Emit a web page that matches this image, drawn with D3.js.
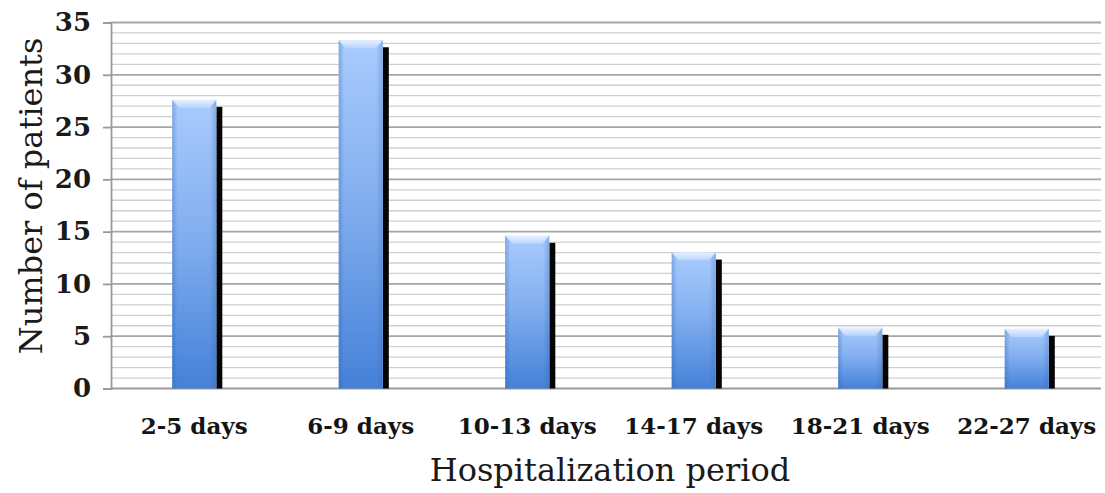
<!DOCTYPE html>
<html>
<head>
<meta charset="utf-8">
<script src="https://cdn.jsdelivr.net/npm/d3@7"></script>
<style>
  html, body { margin: 0; padding: 0; background: #fff; }
  svg { display: block; }
</style>
</head>
<body>
<svg id="chart" width="1105" height="493"></svg>
<script>
// Hospitalization period groups and share of patients in each
const categories = ["2-5 days", "6-9 days", "10-13 days", "14-17 days", "18-21 days", "22-27 days"];
const patients = [27.6, 33.3, 14.6, 13.0, 5.8, 5.7];
const yTicks = [0, 5, 10, 15, 20, 25, 30, 35];
const yMinor = d3.range(0, 36, 1);

const svg = d3.select("#chart");
const plotLeft = 111, plotTop = 22.5, plotBottom = 388.5, gridRight = 1101;

const x = d3.scaleBand().domain(categories).range([plotLeft, 1110]).paddingInner(0.735).paddingOuter(0.3675);
const y = d3.scaleLinear().domain([0, 35]).range([plotBottom, plotTop]);

const defs = svg.append("defs");
const g1 = defs.append("linearGradient").attr("id", "barFill").attr("x1", 0).attr("y1", 0).attr("x2", 0).attr("y2", 1);
g1.append("stop").attr("offset", "0%").attr("stop-color", "#a9cbfd");
g1.append("stop").attr("offset", "45%").attr("stop-color", "#84b0f0");
g1.append("stop").attr("offset", "100%").attr("stop-color", "#4581d8");
const g2 = defs.append("linearGradient").attr("id", "barSide").attr("x1", 0).attr("y1", 0).attr("x2", 1).attr("y2", 0);
g2.append("stop").attr("offset", "0%").attr("stop-color", "#2f62b0").attr("stop-opacity", 0.35);
g2.append("stop").attr("offset", "12%").attr("stop-color", "#2f62b0").attr("stop-opacity", 0);
g2.append("stop").attr("offset", "85%").attr("stop-color", "#2f62b0").attr("stop-opacity", 0);
g2.append("stop").attr("offset", "100%").attr("stop-color", "#2f62b0").attr("stop-opacity", 0.3);
const g3 = defs.append("linearGradient").attr("id", "bevel").attr("x1", 0).attr("y1", 0).attr("x2", 0).attr("y2", 1);
g3.append("stop").attr("offset", "0%").attr("stop-color", "#eef5ff");
g3.append("stop").attr("offset", "100%").attr("stop-color", "#b9d5ff");

// minor gridlines every unit
svg.append("g").selectAll("line").data(yMinor.filter(v => v % 5 !== 0)).join("line")
  .attr("x1", plotLeft).attr("x2", gridRight)
  .attr("y1", d => y(d)).attr("y2", d => y(d))
  .attr("stroke", "#cfcfcf").attr("stroke-width", 1.3);

// major gridlines
svg.append("g").selectAll("line").data(yTicks.filter(v => v > 0)).join("line")
  .attr("x1", plotLeft).attr("x2", gridRight)
  .attr("y1", d => y(d)).attr("y2", d => y(d))
  .attr("stroke", "#a6a6a6").attr("stroke-width", 1.8);

// y axis
const yAxis = svg.append("g").attr("transform", `translate(${plotLeft},0)`)
  .call(d3.axisLeft(y).tickValues(yTicks).tickSize(8).tickPadding(12));
yAxis.select(".domain").attr("stroke", "#9a9a9a").attr("stroke-width", 1.8);
yAxis.selectAll(".tick line").attr("stroke", "#9a9a9a").attr("stroke-width", 1.8);
yAxis.selectAll(".tick text")
  .attr("font-family", "'DejaVu Serif', serif").attr("font-weight", "bold")
  .attr("font-size", 26).attr("fill", "#1a1a1a");

// baseline
svg.append("line").attr("x1", plotLeft).attr("x2", gridRight).attr("y1", y(0)).attr("y2", y(0))
  .attr("stroke", "#9a9a9a").attr("stroke-width", 1.8);

// bars with shadow and bevelled top
const bw = x.bandwidth();
const bars = svg.append("g").selectAll("g").data(categories.map((c, i) => ({ c, v: patients[i] }))).join("g");
bars.append("rect")
  .attr("x", d => x(d.c) + bw).attr("width", 6)
  .attr("y", d => y(d.v) + 7).attr("height", d => y(0) - y(d.v) - 7)
  .attr("fill", "#050505");
bars.append("rect")
  .attr("x", d => x(d.c)).attr("width", bw)
  .attr("y", d => y(d.v)).attr("height", d => y(0) - y(d.v))
  .attr("fill", "url(#barFill)");
bars.append("rect")
  .attr("x", d => x(d.c)).attr("width", bw)
  .attr("y", d => y(d.v)).attr("height", d => y(0) - y(d.v))
  .attr("fill", "url(#barSide)");
bars.append("path")
  .attr("d", d => {
    const x0 = x(d.c), y0 = y(d.v);
    return `M${x0},${y0}L${x0 + bw},${y0}L${x0 + bw - 7},${y0 + 8}L${x0 + 7},${y0 + 8}Z`;
  })
  .attr("fill", "url(#bevel)").attr("opacity", 0.9);

// x labels
svg.append("g").selectAll("text").data(categories).join("text")
  .attr("x", d => x(d) + bw / 2).attr("y", 434)
  .attr("text-anchor", "middle")
  .attr("font-family", "'DejaVu Serif', serif").attr("font-weight", "bold")
  .attr("font-size", 23).attr("fill", "#141414")
  .text(d => d);

// axis titles
svg.append("text").attr("x", 610).attr("y", 481).attr("text-anchor", "middle")
  .attr("font-family", "'DejaVu Serif', serif").attr("font-size", 32).attr("fill", "#1a1a1a")
  .text("Hospitalization period");
svg.append("text").attr("transform", "translate(42,196) rotate(-90)").attr("text-anchor", "middle")
  .attr("font-family", "'DejaVu Serif', serif").attr("font-size", 32).attr("fill", "#1a1a1a")
  .text("Number of patients");
</script>
</body>
</html>
